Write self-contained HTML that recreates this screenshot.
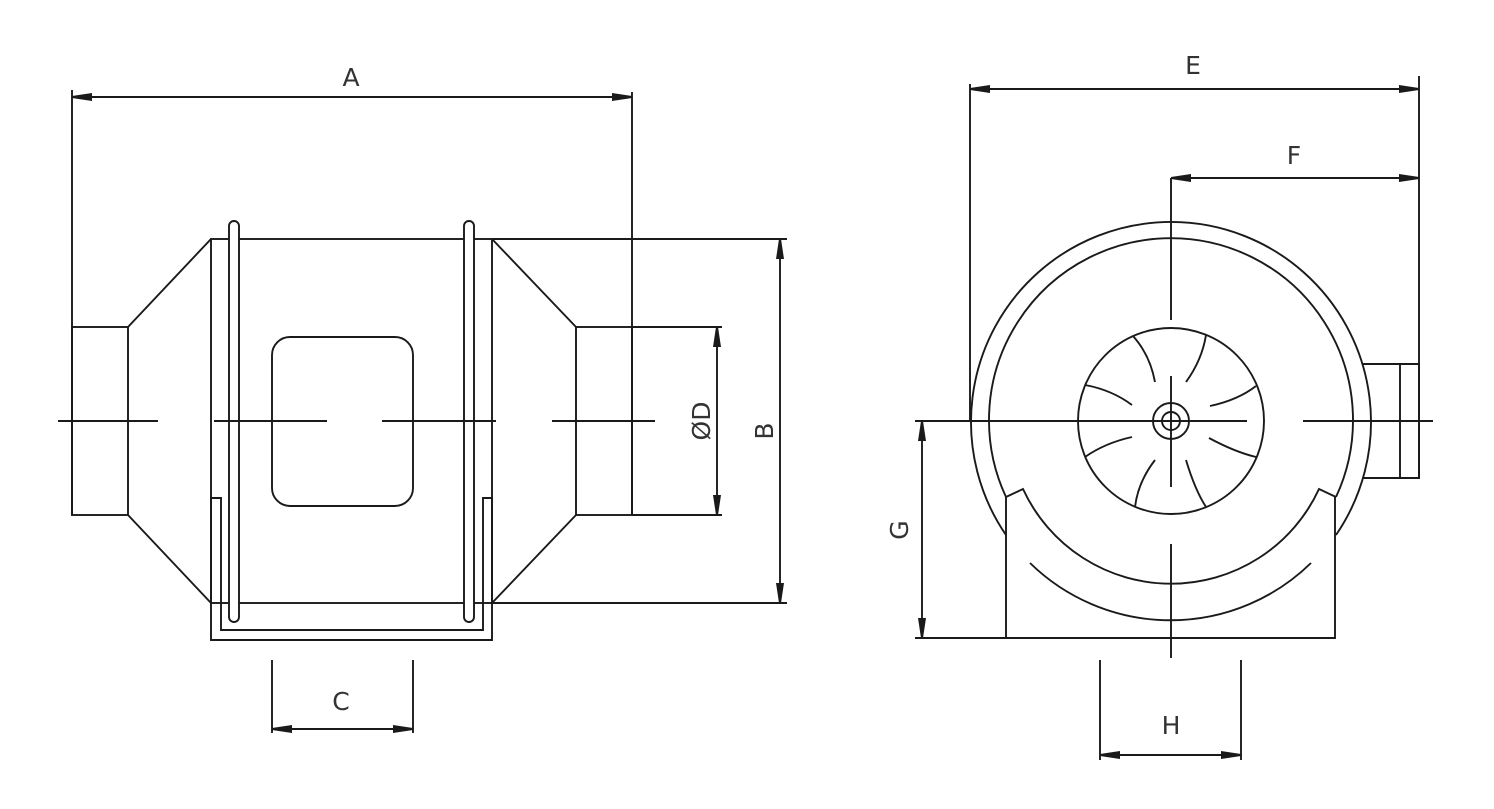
<!DOCTYPE html>
<html><head><meta charset="utf-8"><style>body{margin:0;background:#fff}svg{display:block}text{font-family:"DejaVu Sans","Liberation Sans",sans-serif;font-size:25px;fill:#333}</style></head><body>
<svg width="1494" height="809" viewBox="0 0 1494 809" xmlns="http://www.w3.org/2000/svg">
<defs><marker id="a" viewBox="0 0 20 8" refX="20" refY="4" markerWidth="20" markerHeight="8" markerUnits="userSpaceOnUse" orient="auto-start-reverse"><path d="M0,0 L20,3 L20,5 L0,8 Z" fill="#1a1a1a"/></marker></defs>
<g fill="none" stroke="#1a1a1a" stroke-width="1.9">
<!-- LEFT -->
<line x1="72" y1="90" x2="72" y2="515"/><line x1="632" y1="92" x2="632" y2="515"/>
<line x1="72" y1="97" x2="632" y2="97" marker-start="url(#a)" marker-end="url(#a)"/>
<rect x="72" y="327" width="56" height="188"/>
<rect x="576" y="327" width="56" height="188"/>
<path d="M128,327 L211,239 M128,515 L211,603 M492,239 L576,327 M492,603 L576,515"/>
<rect x="211" y="239" width="281" height="364"/>
<line x1="492" y1="239" x2="787" y2="239"/><line x1="492" y1="603" x2="787" y2="603"/>
<line x1="780" y1="239" x2="780" y2="603" marker-start="url(#a)" marker-end="url(#a)"/>
<line x1="632" y1="327" x2="722" y2="327"/><line x1="632" y1="515" x2="722" y2="515"/>
<line x1="717" y1="327" x2="717" y2="515" marker-start="url(#a)" marker-end="url(#a)"/>
<rect x="229" y="221" width="10" height="401" rx="5" fill="#fff"/>
<rect x="464" y="221" width="10" height="401" rx="5" fill="#fff"/>
<path d="M211,498 L211,640 L492,640 L492,498 L483,498 L483,630 L221,630 L221,498 Z"/>
<rect x="272" y="337" width="141" height="169" rx="18"/>
<path d="M58,421 H158 M214,421 H327 M382,421 H496 M552,421 H655"/>
<line x1="272" y1="660" x2="272" y2="733"/><line x1="413" y1="660" x2="413" y2="733"/>
<line x1="272" y1="729" x2="413" y2="729" marker-start="url(#a)" marker-end="url(#a)"/>
<!-- RIGHT -->
<line x1="970" y1="84" x2="970" y2="421"/><line x1="1419" y1="76" x2="1419" y2="478"/>
<line x1="970" y1="89" x2="1419" y2="89" marker-start="url(#a)" marker-end="url(#a)"/>
<line x1="1171" y1="178" x2="1419" y2="178" marker-start="url(#a)" marker-end="url(#a)"/>
<path d="M1006,535 A200,200 0 1 1 1336,535"/>
<path d="M1006,497 A182,182 0 1 1 1336,497"/>
<path d="M1006,497 L1023,489 A163,163 0 0 0 1319,489 L1336,497"/>
<path d="M1030,563 A201,201 0 0 0 1311,563"/>
<path d="M1006,497 V638 H1335 V497"/>
<line x1="915" y1="638" x2="1006" y2="638"/>
<path d="M1363,364 H1419 V478 H1363 M1400,364 V478"/>
<circle cx="1171" cy="421" r="93"/>
<circle cx="1171" cy="421" r="18"/><circle cx="1171" cy="421" r="9"/>
<path d="M1133,336 Q1150,355 1155,382 M1206,335 Q1202,360 1186,382 M1085,385 Q1112,390 1132,405 M1256,386 Q1238,400 1210,406 M1132,437 Q1105,443 1085,457 M1209,438 Q1235,452 1256,457 M1155,460 Q1138,482 1135,507 M1186,460 Q1195,490 1206,507"/>
<path d="M950,421 H1247 M1303,421 H1433 M1171,178 V320 M1171,376 V487 M1171,544 V658"/>
<line x1="922" y1="421" x2="922" y2="638" marker-start="url(#a)" marker-end="url(#a)"/>
<line x1="915" y1="421" x2="950" y2="421"/>
<line x1="1100" y1="660" x2="1100" y2="760"/><line x1="1241" y1="660" x2="1241" y2="760"/>
<line x1="1100" y1="755" x2="1241" y2="755" marker-start="url(#a)" marker-end="url(#a)"/>
</g>
<text x="351" y="86" text-anchor="middle">A</text>
<text x="341" y="710" text-anchor="middle">C</text>
<text x="1193" y="74" text-anchor="middle">E</text>
<text x="1294" y="164" text-anchor="middle">F</text>
<text x="1171" y="734" text-anchor="middle">H</text>
<text transform="translate(773,431) rotate(-90)" text-anchor="middle">B</text>
<text transform="translate(710,421) rotate(-90)" text-anchor="middle">ØD</text>
<text transform="translate(908,530) rotate(-90)" text-anchor="middle">G</text>
</svg>
</body></html>
